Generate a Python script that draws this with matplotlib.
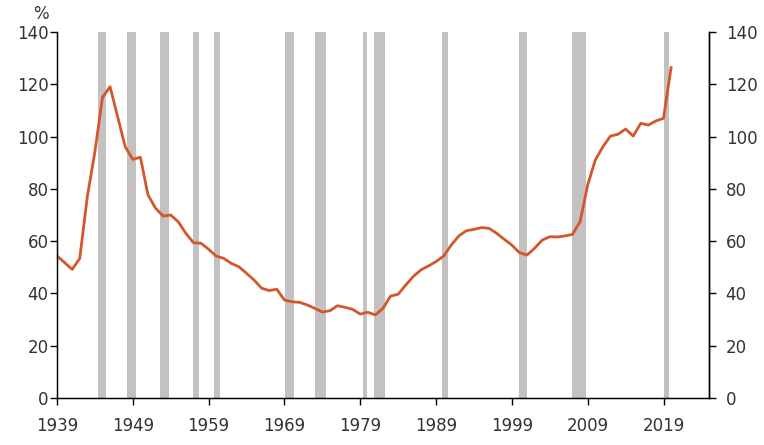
# US federal debt as % of GDP with recession shading
import matplotlib
matplotlib.use('Agg')
import matplotlib.pyplot as plt
import numpy as np

# Annual values
years = np.arange(1939, 2021)
debt = [54.4, 51.8, 49.2, 53.4, 77.0, 94.2, 115.0, 119.1, 107.6, 96.1,
        91.3, 92.1, 77.7, 72.6, 69.6, 70.0, 67.4, 63.0, 59.4, 59.2,
        56.9, 54.3, 53.4, 51.5, 50.2, 47.7, 45.1, 42.0, 41.1, 41.6,
        37.5, 36.8, 36.6, 35.6, 34.3, 32.9, 33.4, 35.3, 34.7, 33.9,
        32.1, 32.8, 31.8, 34.3, 39.0, 39.7, 43.2, 46.5, 49.0, 50.5,
        52.2, 54.3, 58.5, 62.0, 64.0, 64.5, 65.2, 64.9, 63.0, 60.7,
        58.5, 55.6, 54.7, 57.3, 60.4, 61.7, 61.6, 62.0, 62.6, 67.5,
        81.5, 91.0, 96.1, 100.2, 100.9, 102.9, 100.2, 105.1, 104.4, 106.0,
        107.0, 126.4]

# Recession periods (start, end) as drawn on the chart
rec_start = [1944.45, 1948.2, 1952.6, 1956.98, 1959.67, 1969.12, 1973.08,
             1979.37, 1980.82, 1989.83, 2000.0, 2006.98, 2019.08]
rec_end = [1945.46, 1949.42, 1953.82, 1957.77, 1960.5, 1970.31, 1974.53,
           1979.94, 1982.27, 1990.62, 2001.06, 2008.83, 2019.7]

xticks = np.arange(1939, 2020, 10)
yticks = np.arange(0, 141, 20)

fig = plt.figure(figsize=(7.64, 4.45), dpi=100)
ax = fig.add_axes([0.0746, 0.1056, 0.8534, 0.8224])

for s, e in zip(rec_start, rec_end):
    ax.axvspan(s, e, color='#C3C1C1', lw=0, zorder=1)

ax.plot(years, debt, color='#D2572B', lw=2, zorder=3)

ax.set_xlim(1939, 2025)
ax.set_ylim(0, 140)
ax.set_xticks(xticks)
ax.set_yticks(yticks)
ax.spines['top'].set_visible(False)
for sp in ['left', 'bottom', 'right']:
    ax.spines[sp].set_linewidth(1.0)
    ax.spines[sp].set_color('black')
ax.tick_params(axis='x', direction='out', length=5, width=1, pad=9,
               labelsize=12, labelcolor='#333333')
ax.tick_params(axis='y', direction='out', length=5, width=1, pad=1,
               labelsize=12, labelcolor='#333333')

ax2 = ax.twinx()
ax2.set_ylim(0, 140)
ax2.set_yticks(yticks)
ax2.spines['top'].set_visible(False)
ax2.spines['right'].set_linewidth(1.0)
ax2.tick_params(axis='y', direction='out', length=5, width=1, pad=7,
                labelsize=12, labelcolor='#333333')

ax.text(-0.025, 1.025, '%', transform=ax.transAxes, ha='center', va='bottom',
        fontsize=12, color='#333333')

fig.savefig('out.png', dpi=100)
